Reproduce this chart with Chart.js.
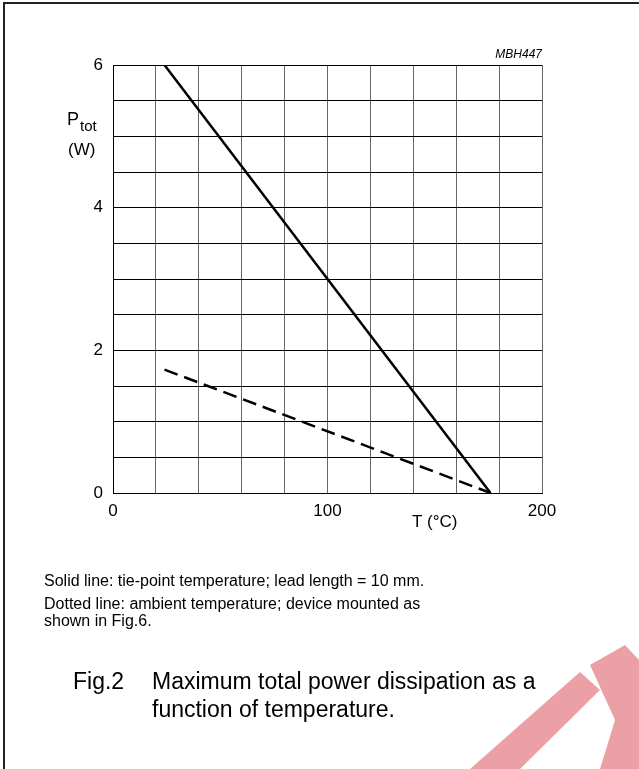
<!DOCTYPE html>
<html>
<head>
<meta charset="utf-8">
<script src="https://cdn.jsdelivr.net/npm/chart.js@4"></script>
<style>
  html, body { margin: 0; padding: 0; background: #fff; }
  canvas { display: block; }
</style>
</head>
<body>
<canvas id="myChart" width="639" height="769"></canvas>
<script>
"use strict"

// values
let tempSolid = [24, 176];     // tie-point temperature (°C)
let powerSolid = [6, 0];       // P_tot (W)
let tempDotted = [24, 176];    // ambient temperature (°C)
let powerDotted = [1.73, 0];
let xTickLabels = [0, 100, 200];
let yTickLabels = [0, 2, 4, 6];

const FONT = '"Liberation Sans", Arial, sans-serif';

function toPoints(xs, ys) {
    let pts = [];
    for (let i = 0; i < xs.length; i++) {
        pts.push({ x: xs[i], y: ys[i] });
    }
    return pts;
}

const extras = { // frame, labels, notes and caption
    id: 'extras',
    afterDraw(chart) {
        let ctx = chart.ctx;
        let xs = chart.scales.x;
        let area = chart.chartArea;
        ctx.save();

        // page frame (top + left only)
        ctx.strokeStyle = '#222';
        ctx.lineWidth = 2;
        ctx.beginPath();
        ctx.moveTo(4, 769);
        ctx.lineTo(4, 3);
        ctx.lineTo(639, 3);
        ctx.stroke();

        ctx.fillStyle = '#000';
        ctx.textBaseline = 'alphabetic';

        // figure code
        ctx.font = 'italic 12px ' + FONT;
        ctx.textAlign = 'right';
        ctx.fillText('MBH447', area.right, 58);

        // y axis title
        ctx.textAlign = 'left';
        ctx.font = '18px ' + FONT;
        ctx.fillText('P', 67, 125);
        ctx.font = '15px ' + FONT;
        ctx.fillText('tot', 80, 131);
        ctx.font = '17px ' + FONT;
        ctx.fillText('(W)', 68, 155);

        // x axis title
        ctx.textAlign = 'center';
        ctx.fillText('T (\u00b0C)', xs.getPixelForValue(150), 527);

        // notes
        ctx.textAlign = 'left';
        ctx.font = '16px ' + FONT;
        ctx.fillText('Solid line: tie-point temperature; lead length = 10 mm.', 44, 586);
        ctx.fillText('Dotted line: ambient temperature; device mounted as', 44, 609);
        ctx.fillText('shown in Fig.6.', 44, 626);

        // caption
        ctx.font = '23px ' + FONT;
        ctx.fillText('Fig.2', 73, 689);
        ctx.fillText('Maximum total power dissipation as a', 152, 689);
        ctx.fillText('function of temperature.', 152, 717);

        // watermark
        ctx.globalCompositeOperation = 'multiply';
        ctx.fillStyle = 'rgba(226, 120, 128, 0.7)';
        ctx.beginPath();
        ctx.moveTo(470, 769);
        ctx.lineTo(580, 672);
        ctx.lineTo(600, 690);
        ctx.lineTo(520, 769);
        ctx.closePath();
        ctx.fill();
        ctx.beginPath();
        ctx.moveTo(590, 665);
        ctx.lineTo(625, 645);
        ctx.lineTo(639, 660);
        ctx.lineTo(639, 769);
        ctx.lineTo(600, 769);
        ctx.lineTo(615, 720);
        ctx.closePath();
        ctx.fill();
        ctx.restore();
    }
};

const data = {
    datasets: [{
        label: 'Solid',
        data: toPoints(tempSolid, powerSolid),
        borderColor: '#000',
        borderWidth: 2.5,
        pointRadius: 0,
        showLine: true,
        fill: false
    },
    {
        label: 'Dotted',
        data: toPoints(tempDotted, powerDotted),
        borderColor: '#000',
        borderWidth: 2.5,
        borderDash: [14, 7],
        pointRadius: 0,
        showLine: true,
        fill: false
    }]
};

const config = {
    type: 'scatter',
    data: data,
    options: {
        responsive: false,
        animation: false,
        devicePixelRatio: 1,
        layout: { padding: { left: 0, top: 65, right: 97, bottom: 0 } },
        plugins: {
            legend: { display: false },
            tooltip: { enabled: false }
        },
        scales: {
            x: {
                type: 'linear',
                min: 0,
                max: 200,
                afterFit: (scale) => { scale.height = 276; },
                border: { display: true, color: '#000', width: 1 },
                grid: { color: '#666', lineWidth: 1, drawTicks: false },
                ticks: {
                    stepSize: 20,
                    padding: 8,
                    autoSkip: false,
                    maxRotation: 0,
                    color: '#000',
                    font: { family: FONT, size: 17 },
                    callback: (v) => xTickLabels.includes(v) ? String(v) : ''
                }
            },
            y: {
                min: 0,
                max: 6,
                afterFit: (scale) => { scale.width = 113; },
                border: { display: true, color: '#000', width: 1 },
                grid: { color: '#000', lineWidth: 1, drawTicks: false },
                ticks: {
                    stepSize: 0.5,
                    padding: 10,
                    autoSkip: false,
                    color: '#000',
                    font: { family: FONT, size: 17 },
                    callback: (v) => yTickLabels.includes(v) ? String(v) : ''
                }
            }
        }
    },
    plugins: [extras]
};

let canvasChart = document.getElementById('myChart');
const myChart = new Chart(canvasChart, config);
</script>
</body>
</html>
